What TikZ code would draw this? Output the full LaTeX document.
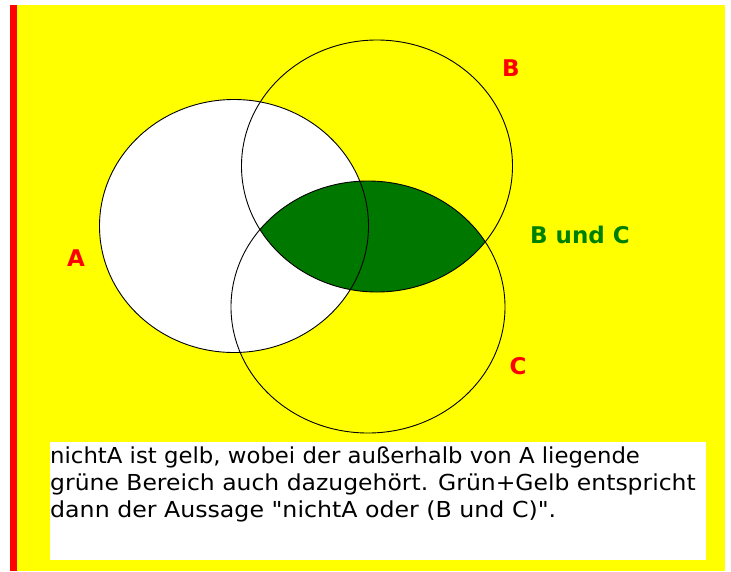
\documentclass[tikz,border=0pt]{standalone}
\usepackage{fontspec}
\setmainfont{DejaVu Sans}
\newfontfamily\bodyfont{DejaVu Sans}
\definecolor{bggreen}{RGB}{0,120,0}
\definecolor{lblgreen}{RGB}{0,128,0}
\definecolor{bgyellow}{RGB}{255,255,0}
\newcommand{\widetxt}[2]{\scalebox{#1}[1]{#2}}
\begin{document}
\begin{tikzpicture}[x=1pt,y=-1pt,
  circ/.style={draw=black,line width=0.9pt},
  lbl/.style={font=\fontsize{23}{27}\selectfont\bfseries,text=red,inner sep=0pt},
  body/.style={font=\bodyfont\fontsize{22}{27}\selectfont,text=black,inner sep=0pt,anchor=base west}]
\useasboundingbox (0,0) rectangle (731,571);
\fill[white] (0,0) rectangle (731,571);
\fill[bgyellow] (10,5) rectangle (725,571);
\fill[red] (10,5) rectangle (17,571);
\fill[white] (50,442) rectangle (706,560);
% A filled white
\fill[white] (234,226) ellipse [x radius=134.5, y radius=126.5];
% B and C green
\begin{scope}
  \clip (377,166) ellipse [x radius=135.5, y radius=126];
  \fill[bggreen] (368,307) ellipse [x radius=137, y radius=126];
\end{scope}
% outlines
\draw[circ] (234,226) ellipse [x radius=134.5, y radius=126.5];
\draw[circ] (377,166) ellipse [x radius=135.5, y radius=126];
\draw[circ] (368,307) ellipse [x radius=137, y radius=126];
% labels
\node[lbl] (la) at (76,258) {A};
\node[lbl] (lb) at (511,68) {B};
\node[lbl] (lc) at (518,366) {C};
\node[lbl,text=lblgreen] (lbc) at (580,235) {B und C};
% text
\node[body] (t1) at (50,463) {\widetxt{1.036}{nichtA ist gelb, wobei der außerhalb von A liegende}};
\node[body] (t2) at (50,490) {\widetxt{1.067}{grüne Bereich auch dazugehört. Grün+Gelb entspricht}};
\node[body] (t3) at (50,517) {\widetxt{1.076}{dann der Aussage "nichtA oder (B und C)".}};
\end{tikzpicture}
\end{document}
